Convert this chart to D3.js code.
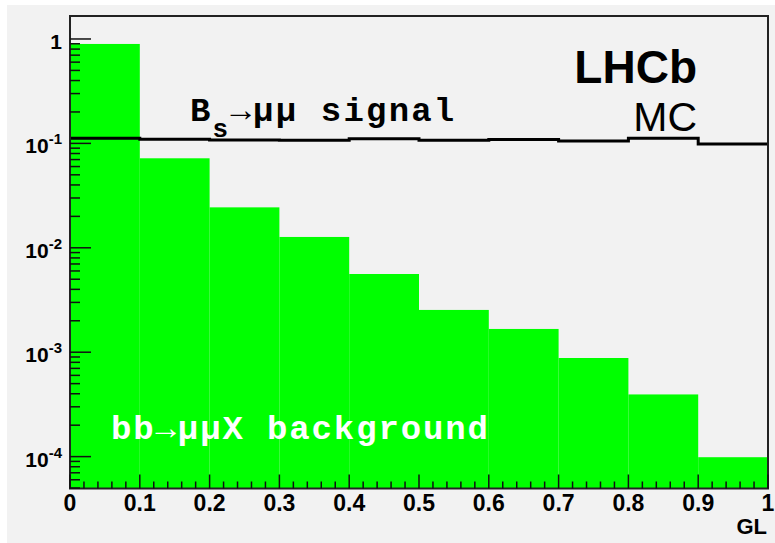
<!DOCTYPE html>
<html>
<head>
<meta charset="utf-8">
<script src="https://cdn.jsdelivr.net/npm/d3@7"></script>
<style>
  body { margin: 0; background: #fff; }
  svg { display: block; }
</style>
</head>
<body>
<div id="chart"></div>
<script>
// GL bins (low edges, width 0.1)
const binLow = [0, 0.1, 0.2, 0.3, 0.4, 0.5, 0.6, 0.7, 0.8, 0.9];
const binWidth = 0.1;
// bb -> mumuX background (green)
const background = [0.896, 0.072, 0.0244, 0.0127, 0.00561, 0.00254, 0.00167, 0.00088, 0.000394, 0.0000987];
// Bs -> mumu signal (black line)
const signal = [0.1117, 0.1093, 0.1075, 0.107, 0.111, 0.107, 0.1087, 0.1052, 0.1117, 0.0985];

const xTicks = [0, 0.1, 0.2, 0.3, 0.4, 0.5, 0.6, 0.7, 0.8, 0.9, 1];
const xTickLabels = ["0", "0.1", "0.2", "0.3", "0.4", "0.5", "0.6", "0.7", "0.8", "0.9", "1"];
const yTicks = [1, 0.1, 0.01, 0.001, 0.0001];
const yTickExp = ["", "-1", "-2", "-3", "-4"];

const W = 775, H = 543;
const svg = d3.select("#chart").append("svg")
  .attr("width", W).attr("height", H);

// canvas
svg.append("rect").attr("x", 7).attr("y", 5).attr("width", W - 7).attr("height", H - 5)
  .attr("fill", "#f2f2f2");

const x = d3.scaleLinear().domain([0, 1]).range([70, 768]);
const y = d3.scaleLog().domain([4.95e-5, 1.66]).range([488.5, 16]);

const bins = binLow.map((lo, i) => ({ lo: lo, hi: lo + binWidth, bkg: background[i], sig: signal[i] }));

// green background histogram
svg.append("g").selectAll("rect").data(bins).join("rect")
  .attr("x", d => x(d.lo))
  .attr("width", d => x(d.hi) - x(d.lo))
  .attr("y", d => y(d.bkg))
  .attr("height", d => y.range()[0] - y(d.bkg))
  .attr("fill", "#00ff00");

// signal outline
const pts = [];
bins.forEach(d => { pts.push([d.lo, d.sig]); pts.push([d.hi, d.sig]); });
const line = d3.line().x(d => x(d[0])).y(d => y(d[1]));
svg.append("path").datum(pts)
  .attr("d", line)
  .attr("fill", "none")
  .attr("stroke", "#000")
  .attr("stroke-width", 3);

// frame
svg.append("rect")
  .attr("x", x(0)).attr("y", y.range()[1])
  .attr("width", x(1) - x(0)).attr("height", y.range()[0] - y.range()[1])
  .attr("fill", "none").attr("stroke", "#222").attr("stroke-width", 2);

// y ticks (log, with minors)
const yAxisG = svg.append("g");
const yMinor = [];
for (let e = -5; e <= 0; e++) {
  for (let k = 2; k <= 9; k++) {
    const v = k * Math.pow(10, e);
    if (v >= y.domain()[0] && v <= 1) yMinor.push(v);
  }
}
yAxisG.selectAll("line.minor").data(yMinor).join("line")
  .attr("x1", x(0)).attr("x2", x(0) + 10)
  .attr("y1", d => y(d)).attr("y2", d => y(d))
  .attr("stroke", "#111").attr("stroke-width", 1.5);
yAxisG.selectAll("line.major").data(yTicks).join("line")
  .attr("x1", x(0)).attr("x2", x(0) + 21)
  .attr("y1", d => y(d)).attr("y2", d => y(d))
  .attr("stroke", "#111").attr("stroke-width", 1.5);

const yLab = yAxisG.selectAll("text").data(yTicks).join("text")
  .attr("x", 62)
  .attr("y", d => y(d) + 10)
  .attr("text-anchor", "end")
  .attr("font-family", "Liberation Sans, Arial, sans-serif")
  .attr("font-weight", "bold")
  .attr("font-size", 21)
  .attr("fill", "#000");
yLab.each(function (d, i) {
  const t = d3.select(this);
  if (yTickExp[i] === "") {
    t.text("1");
  } else {
    t.append("tspan").text("10");
    t.append("tspan").attr("dy", -9).attr("font-size", 15).text(yTickExp[i]);
  }
});

// x ticks
const xAxisG = svg.append("g");
const xMinor = d3.range(0, 51).map(i => i / 50).filter((v, i) => i % 5 !== 0);
xAxisG.selectAll("line.minor").data(xMinor).join("line")
  .attr("x1", d => x(d)).attr("x2", d => x(d))
  .attr("y1", y.range()[0]).attr("y2", y.range()[0] - 7)
  .attr("stroke", "#111").attr("stroke-width", 1.5);
xAxisG.selectAll("line.major").data(xTicks).join("line")
  .attr("x1", d => x(d)).attr("x2", d => x(d))
  .attr("y1", y.range()[0]).attr("y2", y.range()[0] - 14)
  .attr("stroke", "#111").attr("stroke-width", 1.5);
xAxisG.selectAll("text").data(xTicks).join("text")
  .attr("x", d => x(d))
  .attr("y", 511)
  .attr("text-anchor", "middle")
  .attr("font-family", "Liberation Sans, Arial, sans-serif")
  .attr("font-weight", "bold")
  .attr("font-size", 23)
  .attr("fill", "#000")
  .text((d, i) => xTickLabels[i]);

svg.append("text")
  .attr("x", 767).attr("y", 534)
  .attr("text-anchor", "end")
  .attr("font-family", "Liberation Sans, Arial, sans-serif")
  .attr("font-weight", "bold")
  .attr("font-size", 22)
  .text("GL");

// labels
svg.append("text")
  .attr("x", 697).attr("y", 83)
  .attr("text-anchor", "end")
  .attr("font-family", "Liberation Sans, Arial, sans-serif")
  .attr("font-weight", "bold")
  .attr("font-size", 46)
  .text("LHCb");
svg.append("text")
  .attr("x", 697).attr("y", 131)
  .attr("text-anchor", "end")
  .attr("font-family", "Liberation Sans, Arial, sans-serif")
  .attr("font-size", 41)
  .text("MC");

const sigText = svg.append("text")
  .attr("x", 190).attr("y", 121)
  .attr("font-family", "Liberation Mono, Courier New, monospace")
  .attr("font-weight", "bold")
  .attr("font-size", 34)
  .attr("letter-spacing", 2.2)
  .attr("fill", "#000");
sigText.append("tspan").text("B");
sigText.append("tspan").attr("dy", 16).attr("font-size", 26).text("s");
sigText.append("tspan").attr("dy", -16).text("\u2192\u03bc\u03bc signal");

svg.append("text")
  .attr("x", 111).attr("y", 439)
  .attr("font-family", "Liberation Mono, Courier New, monospace")
  .attr("font-weight", "bold")
  .attr("font-size", 34)
  .attr("fill", "#fff")
  .attr("textLength", 377)
  .attr("lengthAdjust", "spacing")
  .text("bb\u2192\u03bc\u03bcX background");
</script>
</body>
</html>
